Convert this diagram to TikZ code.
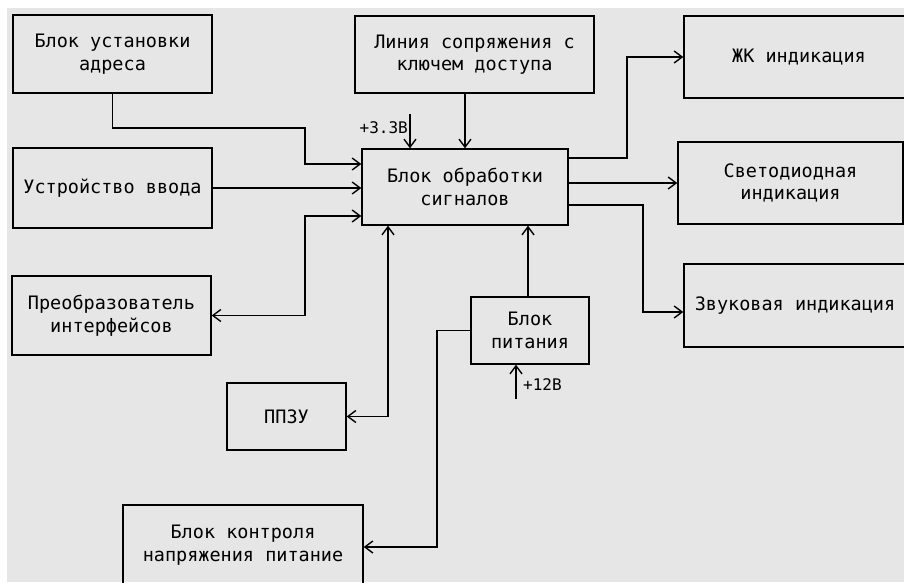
\documentclass[tikz,border=0pt]{standalone}
\usepackage{fontspec}
\usepackage{tikz}
\usetikzlibrary{arrows.meta, positioning, calc}
\newfontfamily\blkfont{DejaVu Sans Mono}
\definecolor{bggray}{HTML}{E6E6E6}

\begin{document}
\begin{tikzpicture}[
    x=1pt, y=-1pt,
    blk/.style={draw, line width=1.4pt, align=center, inner sep=0pt,
                font=\blkfont\fontsize{18.5}{22.5}\selectfont},
    arr/.style={-{Straight Barb[length=8pt, width=12pt]}, line width=1.4pt},
    arrb/.style={{Straight Barb[length=8pt, width=12pt]}-{Straight Barb[length=8pt, width=12pt]}, line width=1.4pt},
    lbl/.style={font=\blkfont\fontsize{16}{18}\selectfont, inner sep=0pt},
]
\clip (0,0) rectangle (904,582);
\fill[white] (0,0) rectangle (904,582);
\fill[bggray] (7,8) rectangle (904,582);

\node[blk, minimum width=199, minimum height=78] (adr)  at (112.5,54)  {Блок установки\\адреса};
\node[blk, minimum width=199, minimum height=80] (inp)  at (112.5,188) {Устройство ввода};
\node[blk, minimum width=199, minimum height=79] (conv) at (111.5,315.5) {Преобразователь\\интерфейсов};
\node[blk, minimum width=119, minimum height=67] (rom)  at (286.5,416.5) {ППЗУ};
\node[blk, minimum width=240, minimum height=80] (mon)  at (243,545) {Блок контроля\\напряжения питание};
\node[blk, minimum width=239, minimum height=77] (key)  at (474.5,54.5) {Линия сопряжения с\\ключем доступа};
\node[blk, minimum width=206, minimum height=76] (cpu)  at (465,187) {Блок обработки\\сигналов};
\node[blk, minimum width=118, minimum height=67] (psu)  at (530,330.5) {Блок\\питания};
\node[blk, minimum width=230, minimum height=82] (lcd)  at (799,57) {ЖК индикация};
\node[blk, minimum width=225, minimum height=82] (led)  at (790.5,183) {Светодиодная\\индикация};
\node[blk, minimum width=222, minimum height=83] (snd)  at (795,305.5) {Звуковая индикация};

% supply inputs
\coordinate (p33) at (410,114);
\coordinate (p12) at (516,399);
\node[lbl, anchor=east] (v33) at (408,128) {+3.3В};
\node[lbl, anchor=west] (v12) at (523,385) {+12В};

\draw[arr]  (adr.south) |- (305,128) |- (cpu.west |- 0,164);
\draw[arr]  (inp.east) -- (cpu.west |- inp.east);
\draw[arrb] (conv.east) -| (305,216) -- (cpu.west |- 0,216);
\draw[arrb] (rom.east) -| (cpu.south -| 388,0);
\draw[arr]  (p33) -- (cpu.north -| p33);
\draw[arr]  (key.south -| 465,0) -- (cpu.north -| 465,0);
\draw[arr]  (cpu.east |- 0,158) -| (627,57) -- (lcd.west);
\draw[arr]  (cpu.east |- 0,183) -- (led.west);
\draw[arr]  (cpu.east |- 0,205) -| (643,312) -- (snd.west |- 0,312);
\draw[arr]  (psu.north -| 528,0) -- (cpu.south -| 528,0);
\draw[arr]  (psu.west) -| (437,547) -- (mon.east |- 0,547);
\draw[arr]  (p12) -- (psu.south -| p12);
\end{tikzpicture}
\end{document}
